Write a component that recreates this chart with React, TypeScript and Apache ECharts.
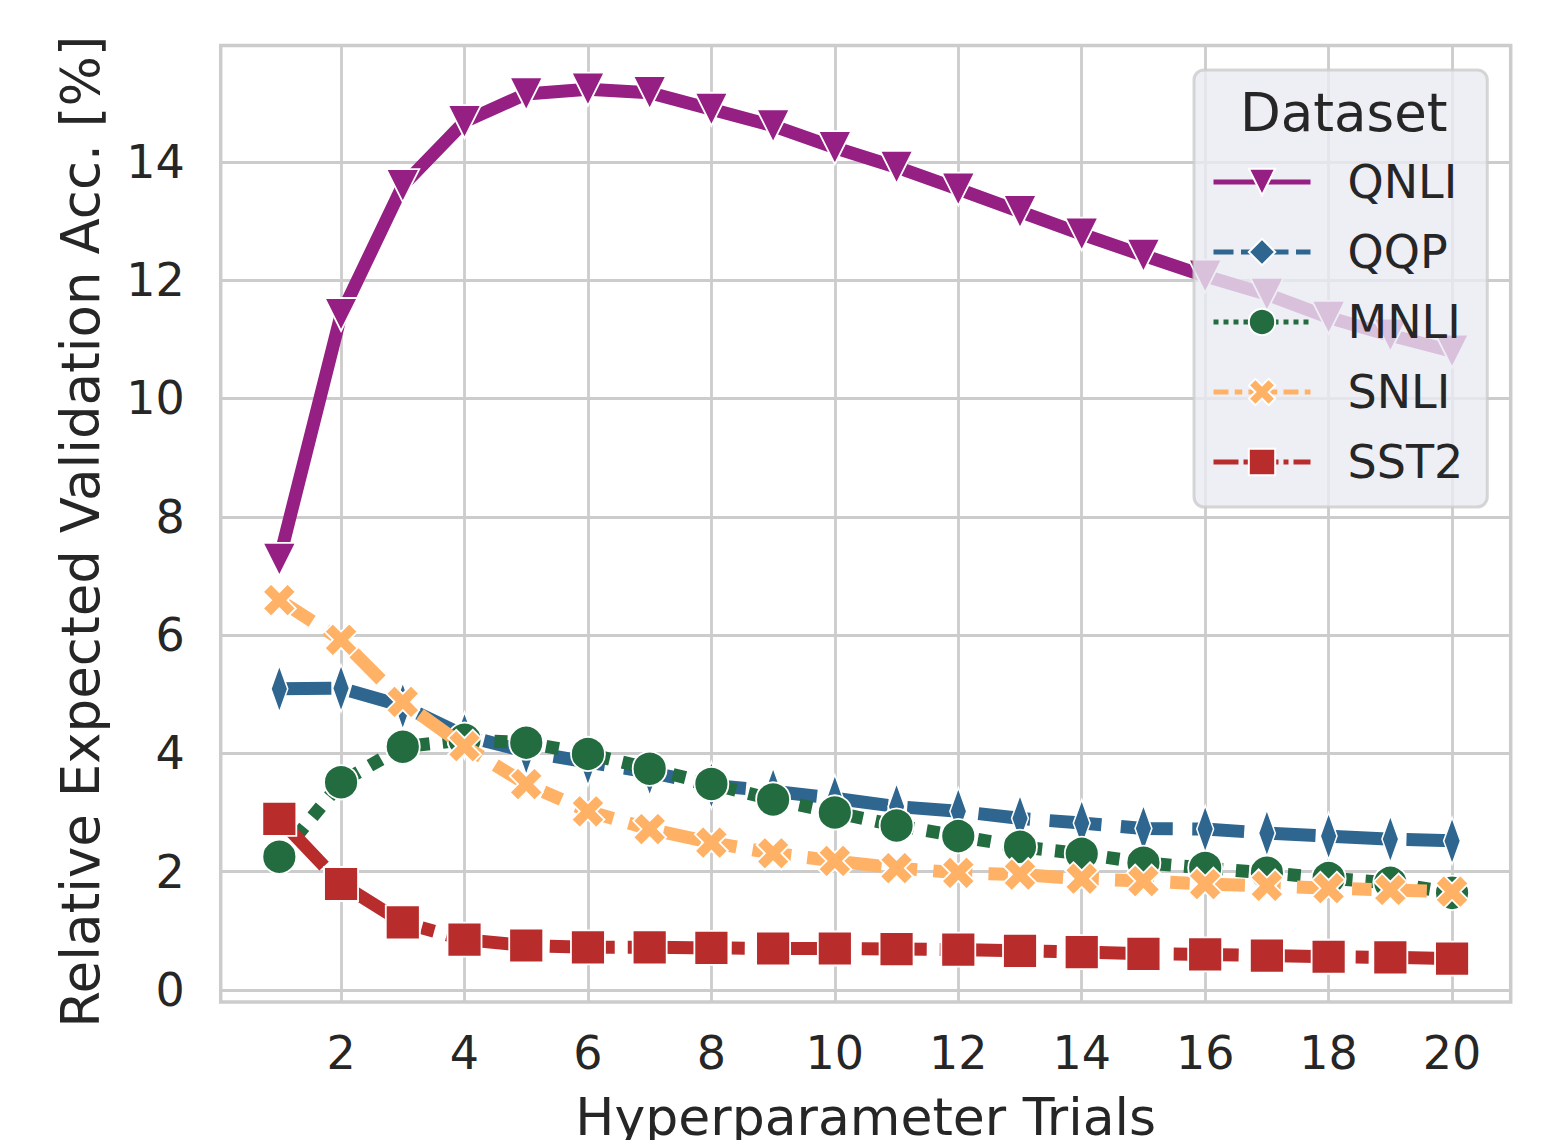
import React, { useEffect, useRef } from "react";
import * as echarts from "echarts";

const trials = [1, 2, 3, 4, 5, 6, 7, 8, 9, 10, 11, 12, 13, 14, 15, 16, 17, 18, 19, 20];
const qnli = [7.28, 11.42, 13.6, 14.68, 15.15, 15.23, 15.17, 14.89, 14.61, 14.24, 13.91, 13.54, 13.16, 12.78, 12.42, 12.07, 11.76, 11.37, 11.07, 10.8];
const qqp = [5.09, 5.1, 4.8, 4.3, 4.03, 3.85, 3.68, 3.46, 3.36, 3.24, 3.1, 3.02, 2.9, 2.82, 2.73, 2.72, 2.65, 2.6, 2.55, 2.52];
const mnli = [2.25, 3.51, 4.11, 4.23, 4.18, 3.99, 3.74, 3.48, 3.22, 3.0, 2.78, 2.6, 2.42, 2.3, 2.15, 2.06, 1.98, 1.89, 1.81, 1.64];
const snli = [6.59, 5.92, 4.87, 4.12, 3.48, 3.02, 2.72, 2.49, 2.31, 2.18, 2.06, 1.98, 1.95, 1.88, 1.84, 1.79, 1.76, 1.72, 1.69, 1.66];
const sst2 = [2.89, 1.79, 1.14, 0.85, 0.75, 0.72, 0.72, 0.71, 0.7, 0.7, 0.69, 0.68, 0.66, 0.64, 0.61, 0.6, 0.58, 0.56, 0.55, 0.53];

const xTicks = [2, 4, 6, 8, 10, 12, 14, 16, 18, 20];
const yTicks = [0, 2, 4, 6, 8, 10, 12, 14];

const FONT = "DejaVu Sans";
const TEXT = "#262626";
const GRID = "#cccccc";

const TRI_DOWN = "path://M0,0 L2,0 L1,2 Z";
const THIN_DIAMOND = "path://M3,0 L6,5 L3,10 L0,5 Z";
const X_FILLED = "path://M6,0 L8,2 L6,4 L8,6 L6,8 L4,6 L2,8 L0,6 L2,4 L0,2 L2,0 L4,2 Z";

const LW = 13;
const LEG_LW = 5;

type Def = {
  name: string;
  data: number[];
  color: string;
  symbol: string;
  size: number | number[];
  dash: number[] | "solid";
  legDash: number[] | "solid";
};

const defs: Def[] = [
  { name: "QNLI", data: qnli, color: "#951f82", symbol: TRI_DOWN, size: 33, dash: "solid", legDash: "solid" },
  { name: "QQP", data: qqp, color: "#2e6690", symbol: THIN_DIAMOND, size: [28, 47], dash: [4 * LW, 1.5 * LW], legDash: [4 * LEG_LW, 1.5 * LEG_LW] },
  { name: "MNLI", data: mnli, color: "#236c40", symbol: "circle", size: 34, dash: [LW, LW], legDash: [LEG_LW, LEG_LW] },
  { name: "SNLI", data: snli, color: "#ffb266", symbol: X_FILLED, size: 33, dash: [3 * LW, 1.25 * LW, 1.5 * LW, 1.25 * LW], legDash: [3 * LEG_LW, 1.25 * LEG_LW, 1.5 * LEG_LW, 1.25 * LEG_LW] },
  { name: "SST2", data: sst2, color: "#b92c2c", symbol: "rect", size: 34, dash: [5 * LW, LW, LW, LW], legDash: [5 * LEG_LW, LEG_LW, LEG_LW, LEG_LW] },
];

export default function App() {
  const ref = useRef<HTMLDivElement>(null);
  useEffect(() => {
    if (!ref.current) return;
    const chart = echarts.init(ref.current, undefined, { renderer: "svg" });
    const series = defs.map((d, i) => ({
      name: d.name,
      type: "line",
      data: trials.map((t, k) => [t, d.data[k]]),
      symbol: d.symbol,
      symbolSize: d.size,
      symbolKeepAspect: true,
      showSymbol: true,
      z: 2 + i * 0.01,
      lineStyle: { color: d.color, width: LW, type: d.dash, cap: "butt", join: "round" },
      itemStyle: { color: d.color, borderColor: "#ffffff", borderWidth: 1.8 },
      emphasis: { disabled: true },
    }));
    chart.setOption({
      animation: false,
      backgroundColor: "#ffffff",
      textStyle: { fontFamily: FONT },
      grid: {
        left: 220.7,
        right: 41.3,
        top: 45.4,
        bottom: 141.3,
        show: true,
        borderColor: GRID,
        borderWidth: 3.5,
        backgroundColor: "#ffffff",
      },
      xAxis: {
        type: "value",
        min: 0.05,
        max: 20.95,
        name: "Hyperparameter Trials",
        nameLocation: "middle",
        nameGap: 89,
        nameTextStyle: { fontSize: 52, color: TEXT, fontFamily: FONT },
        axisLine: { show: false },
        axisTick: { show: false, customValues: xTicks },
        axisLabel: { customValues: xTicks, fontSize: 46, color: TEXT, fontFamily: FONT, margin: 28 },
        splitLine: { show: true, lineStyle: { color: GRID, width: 2.8 } },
      },
      yAxis: {
        type: "value",
        min: -0.205,
        max: 15.97,
        name: "Relative Expected Validation Acc. [%]",
        nameLocation: "middle",
        nameGap: 114,
        nameTextStyle: { fontSize: 53, color: TEXT, fontFamily: FONT, padding: [0, 16, 0, 0] },
        axisLine: { show: false },
        axisTick: { show: false, customValues: yTicks },
        axisLabel: { customValues: yTicks, fontSize: 46, color: TEXT, fontFamily: FONT, margin: 36 },
        splitLine: { show: true, lineStyle: { color: GRID, width: 2.8 } },
      },
      legend: {
        orient: "vertical",
        left: 1194,
        top: 70,
        padding: [89, 24, 22, 17],
        itemWidth: 97,
        itemHeight: 33,
        itemGap: 24,
        backgroundColor: "rgba(234,234,242,0.8)",
        borderColor: "rgba(204,204,204,0.8)",
        borderWidth: 3,
        borderRadius: 10,
        symbolKeepAspect: true,
        textStyle: { fontSize: 46, lineHeight: 46, color: TEXT, fontFamily: FONT, padding: [0, 0, 0, 32] },
        data: defs.map((d) => ({
          name: d.name,
          lineStyle: { width: LEG_LW, type: d.legDash, color: d.color },
        })),
      },
      graphic: [
        {
          type: "text",
          left: 1240,
          top: 86,
          z: 100,
          style: { text: "Dataset", fontSize: 53, fontFamily: FONT, fill: TEXT },
        },
      ],
      series,
    });
    return () => chart.dispose();
  }, []);
  return <div ref={ref} style={{ width: 1552, height: 1148, margin: -8 }} />;
}
